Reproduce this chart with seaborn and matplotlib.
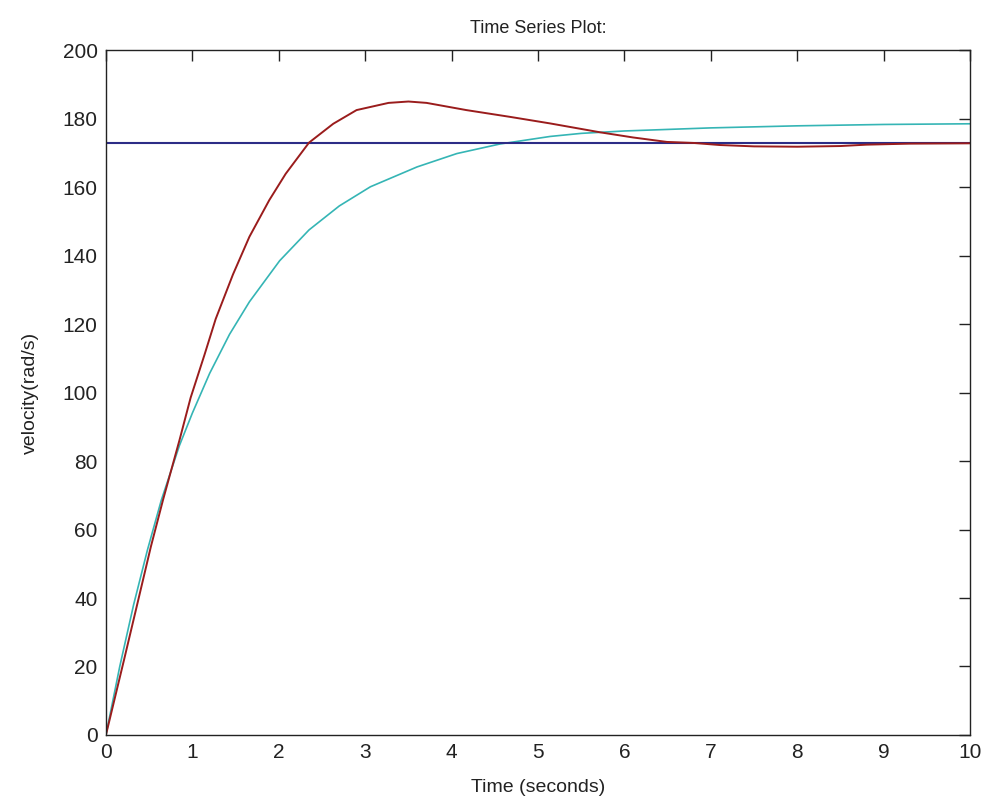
import numpy as np
import pandas as pd
import matplotlib
matplotlib.use("Agg")
import matplotlib.pyplot as plt
import seaborn as sns

sns.set_style("white")
plt.rcParams['font.family'] = ['Liberation Sans Narrow', 'Liberation Sans', 'DejaVu Sans']

# valores
t_ref = [0.0, 10.0]
v_ref = [172.8, 172.8]

t_red = [0.0, 0.21, 0.37, 0.52, 0.66, 0.85, 0.98, 1.14, 1.27, 1.47, 1.66, 1.89,
         2.08, 2.35, 2.63, 2.90, 3.27, 3.50, 3.71, 4.17, 4.68, 5.14, 5.72, 6.10,
         6.49, 6.80, 7.10, 7.50, 8.00, 8.50, 8.80, 9.30, 10.0]
v_red = [0.0, 22.0, 39.0, 55.0, 68.6, 86.0, 98.5, 111.0, 121.5, 134.5, 145.5, 156.2,
         163.9, 173.0, 178.5, 182.5, 184.6, 185.0, 184.6, 182.5, 180.5, 178.6, 176.0, 174.5,
         173.2, 172.9, 172.3, 171.9, 171.8, 172.0, 172.4, 172.7, 172.8]

t_cyan = [0.0, 0.16, 0.32, 0.48, 0.64, 0.85, 1.00, 1.20, 1.43, 1.66, 2.01, 2.35,
          2.70, 3.06, 3.60, 4.06, 4.56, 5.14, 5.50, 6.00, 7.00, 8.00, 9.00, 10.0]
v_cyan = [0.0, 20.0, 38.0, 54.0, 68.5, 84.5, 94.0, 105.6, 117.0, 126.5, 138.5, 147.5,
          154.5, 160.1, 165.9, 169.8, 172.6, 174.8, 175.7, 176.4, 177.3, 177.9, 178.3, 178.5]

fig = plt.figure(figsize=(9.9, 8.09), dpi=100)
ax = fig.add_axes([0.107, 0.0915, 0.873, 0.8465])

sns.lineplot(x=t_cyan, y=v_cyan, color='#35b5b5', lw=1.2, ax=ax, sort=False)
sns.lineplot(x=t_ref, y=v_ref, color='#2c2c86', lw=1.5, ax=ax, sort=False)
sns.lineplot(x=t_red, y=v_red, color='#9a1c1c', lw=1.4, ax=ax, sort=False)

ax.set_xlim(0, 10)
ax.set_ylim(0, 200)
ax.set_xticks(np.arange(0, 11, 1))
ax.set_yticks(np.arange(0, 201, 20))
ax.tick_params(direction='in', length=8, width=1, top=True, right=True,
               labelsize=15, colors='#222222', pad=6)
for s in ax.spines.values():
    s.set_visible(True)
    s.set_color('#222222')
    s.set_linewidth(1.0)

ax.set_title('Time Series Plot:', fontsize=13, color='#222222', pad=12)
ax.set_xlabel('Time (seconds)', fontsize=14, color='#222222', labelpad=12)
ax.set_ylabel('velocity(rad/s)', fontsize=14, color='#222222', labelpad=17)

fig.savefig('out.png', dpi=100)
